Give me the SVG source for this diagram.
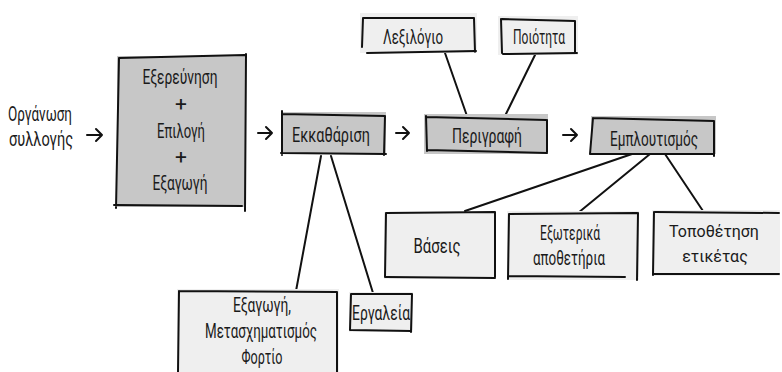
<svg xmlns="http://www.w3.org/2000/svg" width="782" height="372" viewBox="0 0 782 372">
<defs>
<style>
.t{font-family:"Roboto","Liberation Sans",sans-serif;font-size:21px;fill:#1a1a1a;text-anchor:middle}
.s{font-size:16px}
.dk{fill:#c7c7c7}
.lt{fill:#efefef}
.b{fill:none;stroke:#111;stroke-width:2;stroke-linecap:round;stroke-linejoin:round}
.c{fill:none;stroke:#111;stroke-width:2;stroke-linecap:round;stroke-linejoin:round}
</style>
</defs>
<rect width="782" height="372" fill="#fff"/>

<g id="connectors">
<path class="c" d="M87,135 L102,135 M96,129 L102,135 L96,141"/>
<path class="c" d="M258,133 L272,133 M266,127 L272,133 L266,139"/>
<path class="c" d="M396,133 L409,133 M403,127 L409,133 L403,139"/>
<path class="c" d="M563,135 L577,135 M571,129 L577,135 L571,141"/>
<path class="c" d="M445,53 L467,116"/>
<path class="c" d="M535,55 L504,118"/>
<path class="c" d="M632,154 L465,211"/>
<path class="c" d="M650,154 L578,213"/>
<path class="c" d="M665,154 L703,211"/>
<path class="c" d="M321,156 L296,291"/>
<path class="c" d="M331,156 L373,293"/>
</g>

<g id="n-organosi">
<text class="t" x="40" y="121" textLength="64" lengthAdjust="spacingAndGlyphs">Οργάνωση</text>
<text class="t" x="41" y="146" textLength="64" lengthAdjust="spacingAndGlyphs">συλλογής</text>
</g>

<g id="n-exerevnisi">
<rect class="dk" x="117" y="56" width="129" height="151"/>
<path class="b" d="M119,58 L245,55 M246,54 L245,211 M114,205 L242,206 M119,58 L116,208"/>
<text class="t" x="180" y="84" textLength="75" lengthAdjust="spacingAndGlyphs">Εξερεύνηση</text>
<text class="t" x="181" y="111">+</text>
<text class="t" x="181" y="138" textLength="48" lengthAdjust="spacingAndGlyphs">Επιλογή</text>
<text class="t" x="181" y="164">+</text>
<text class="t" x="180" y="190" textLength="55" lengthAdjust="spacingAndGlyphs">Εξαγωγή</text>
</g>

<g id="n-ekkatharisi">
<rect class="dk" x="282" y="112" width="104" height="42"/>
<path class="b" d="M282,114 L385,116 M385,116 L384,155 M281,153 L386,154 M282,111 L282,155"/>
<text class="t" x="331" y="142" textLength="78" lengthAdjust="spacingAndGlyphs">Εκκαθάριση</text>
</g>

<g id="n-perigrafi">
<rect class="dk" x="424" y="114" width="124" height="40"/>
<path class="b" d="M426,117 L546,120 M547,120 L547,152 M427,150 L547,153 M426,116 L427,151"/>
<text class="t" x="487" y="143" textLength="70" lengthAdjust="spacingAndGlyphs">Περιγραφή</text>
</g>

<g id="n-lexilogio">
<rect class="lt" x="360" y="13" width="117" height="40"/>
<path class="b" d="M363,18 L474,18 M474,18 L475,52 M367,53 L476,51 M363,18 L362,47"/>
<text class="t" x="413" y="44" textLength="60" lengthAdjust="spacingAndGlyphs">Λεξιλόγιο</text>
</g>

<g id="n-poiotita">
<rect class="lt" x="498" y="16" width="80" height="39"/>
<path class="b" d="M502,19 L575,21 M575,21 L575,53 M503,54 L577,53 M501,19 L502,53"/>
<text class="t" x="539" y="44" textLength="52" lengthAdjust="spacingAndGlyphs">Ποιότητα</text>
</g>

<g id="n-emploutismos">
<rect class="dk" x="591" y="116" width="125" height="38"/>
<path class="b" d="M593,118 L714,121 M714,121 L714,156 M590,154 L714,154 M593,118 L590,154"/>
<text class="t" x="654" y="146" textLength="88" lengthAdjust="spacingAndGlyphs">Εμπλουτισμός</text>
</g>

<g id="n-vaseis">
<rect class="lt" x="384" y="212" width="112" height="67"/>
<path class="b" d="M386,213 L495,212 M495,212 L495,277 M386,277 L495,278 M386,213 L385,277"/>
<text class="t" x="437" y="253" textLength="47" lengthAdjust="spacingAndGlyphs">Βάσεις</text>
</g>

<g id="n-exoterika">
<rect class="lt" x="507" y="211" width="132" height="69"/>
<path class="b" d="M509,214 L637,213 M638,213 L637,280 M508,276 L625,277 M509,214 L508,279"/>
<text class="t" x="570" y="240" textLength="60" lengthAdjust="spacingAndGlyphs">Εξωτερικά</text>
<text class="t" x="569" y="265" textLength="72" lengthAdjust="spacingAndGlyphs">αποθετήρια</text>
</g>

<g id="n-topothetisi">
<rect class="lt" x="652" y="210" width="128" height="66"/>
<path class="b" d="M655,212 L779,213 M654,212 L653,275 M654,274 L779,274"/>
<text class="t s" x="714" y="237">Τοποθέτηση</text>
<text class="t s" x="715" y="262">ετικέτας</text>
</g>

<g id="n-etl">
<rect class="lt" x="177" y="289" width="162" height="83"/>
<path class="b" d="M179,291 L337,292 M337,292 L337,372 M179,291 L178,372"/>
<text class="t" x="262" y="312" textLength="58" lengthAdjust="spacingAndGlyphs">Εξαγωγή,</text>
<text class="t" x="261" y="338" textLength="112" lengthAdjust="spacingAndGlyphs">Μετασχηματισμός</text>
<text class="t" x="262" y="364" textLength="41" lengthAdjust="spacingAndGlyphs">Φορτίο</text>
</g>

<g id="n-ergaleia">
<rect class="lt" x="349" y="292" width="64" height="40"/>
<path class="b" d="M351,294 L412,294 M412,294 L411,332 M351,330 L411,331 M351,294 L350,330"/>
<text class="t" x="381" y="320" textLength="58" lengthAdjust="spacingAndGlyphs">Εργαλεία</text>
</g>
</svg>
